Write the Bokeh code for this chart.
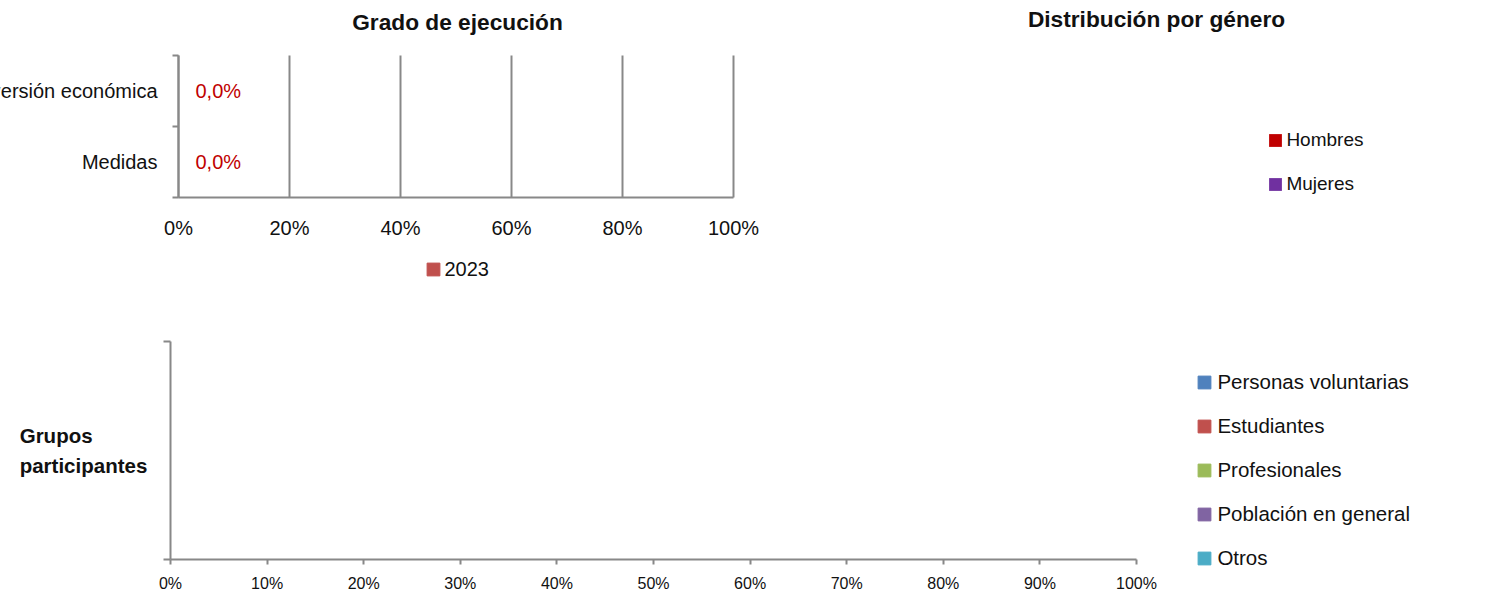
from bokeh.plotting import figure
from bokeh.models import (ColumnDataSource, FixedTicker, LabelSet, Label, Legend, LegendItem,
                          Range1d, NumeralTickFormatter)
from bokeh.layouts import column, row
from bokeh.embed import file_html
from bokeh.resources import INLINE
from bokeh.core.properties import value
import numpy as np

FONT = "Liberation Sans"
GREY = "#888888"
TXT = "#111111"

# ---------------- data ----------------
# Chart 1: Grado de ejecución
exec_title = "Grado de ejecución"
exec_categories = ["Medidas", "Inversión económica"]
exec_values_2023 = [0.0, 0.0]          # fraction executed
exec_series = "2023"
exec_color = "#C0504D"
exec_label_color = "#C00000"
exec_ticks = [0, 0.2, 0.4, 0.6, 0.8, 1.0]

# Chart 2: Distribución por género
gender_title = "Distribución por género"
gender_labels = ["Hombres", "Mujeres"]
gender_values = [0, 0]
gender_colors = ["#C00000", "#7030A0"]

# Chart 3: Grupos participantes
group_category = ["Grupos\nparticipantes"]
group_series = ["Personas voluntarias", "Estudiantes", "Profesionales",
                "Población en general", "Otros"]
group_values = [0, 0, 0, 0, 0]
group_colors = ["#4F81BD", "#C0504D", "#9BBB59", "#8064A2", "#4BACC6"]
group_ticks = [0, 0.1, 0.2, 0.3, 0.4, 0.5, 0.6, 0.7, 0.8, 0.9, 1.0]

# ---------------- layout geometry (pixels) ----------------
W1, W2, H_TOP = 798, 687, 298
W3, H3 = 1485, 298
P1_X0, P1_X1, P1_TOP, P1_BOT = 178, 733, 55, 197       # chart 1 plot area
P3_X0, P3_X1, P3_TOP, P3_BOT = 170, 1136, 43, 261      # chart 3 plot area (own coords)


def base_style(p):
    p.outline_line_color = None
    p.background_fill_color = "white"
    p.border_fill_color = "white"


def lin(px, p0, p1, v0, v1):
    return v0 + (px - p0) * (v1 - v0) / (p1 - p0)


def title_label(p, text, x, y):
    p.add_layout(Label(x=x, y=y, text=text, text_align="center", text_baseline="middle",
                       text_font=FONT, text_font_size="22.7px",
                       text_font_style="bold", text_color=TXT))


# ---------------- chart 1 ----------------
n1 = len(exec_categories)
x1r = Range1d(lin(0, P1_X0, P1_X1, 0, 1), lin(W1, P1_X0, P1_X1, 0, 1))
y1r = Range1d(lin(H_TOP, P1_BOT, P1_TOP, 0, n1), lin(0, P1_BOT, P1_TOP, 0, n1))
p1 = figure(width=W1, height=H_TOP, output_backend="svg", toolbar_location=None,
            x_range=x1r, y_range=y1r, min_border=0)
base_style(p1)
title_label(p1, exec_title, lin(457, P1_X0, P1_X1, 0, 1), lin(21.5, P1_BOT, P1_TOP, 0, n1))

ypos1 = [0.5 + i for i in range(n1)]
src1 = ColumnDataSource(dict(
    y=ypos1, v=exec_values_2023, cat=exec_categories,
    lbl=[("%.1f%%" % (v * 100)).replace(".", ",") for v in exec_values_2023],
    zero=[0] * n1))
r1 = p1.hbar(y="y", right="v", left=0, height=0.6, color=exec_color, source=src1)

p1.xaxis.fixed_location = 0
p1.xaxis.bounds = (0, 1)
p1.xaxis.ticker = FixedTicker(ticks=exec_ticks)
p1.xaxis.formatter = NumeralTickFormatter(format="0%")
p1.xaxis.major_tick_out = 0
p1.xaxis.major_tick_in = 0
p1.xaxis.minor_tick_out = 0
p1.xaxis.minor_tick_in = 0
p1.xaxis.axis_line_color = GREY
p1.xaxis.axis_line_width = 2
p1.xaxis.major_label_standoff = 19
p1.xaxis.major_label_text_font = FONT
p1.xaxis.major_label_text_font_size = "20px"
p1.xaxis.major_label_text_color = TXT
p1.xgrid.grid_line_color = GREY
p1.xgrid.grid_line_width = 2
p1.xgrid.bounds = (x1r.start, x1r.end)
p1.xgrid.cross_bounds = (0, n1)
p1.ygrid.visible = False

p1.yaxis.fixed_location = 0
p1.yaxis.bounds = (0, n1)
p1.yaxis.ticker = FixedTicker(ticks=[], minor_ticks=list(range(n1 + 1)))
p1.yaxis.minor_tick_out = 6
p1.yaxis.minor_tick_in = 0
p1.yaxis.minor_tick_line_color = GREY
p1.yaxis.minor_tick_line_width = 2
p1.yaxis.axis_line_color = GREY
p1.yaxis.axis_line_width = 2

p1.add_layout(LabelSet(x="zero", y="y", text="cat", source=src1, x_offset=-21,
                       text_align="right", text_baseline="middle",
                       text_font=value(FONT), text_font_size="20px", text_color=TXT))
p1.add_layout(LabelSet(x="v", y="y", text="lbl", source=src1, x_offset=17,
                       text_align="left", text_baseline="middle",
                       text_font=value(FONT), text_font_size="20px",
                       text_color=exec_label_color))

leg1 = Legend(items=[LegendItem(label=exec_series, renderers=[r1])],
              location=(425.4, H_TOP - 281), margin=0, padding=0,
              border_line_color=None, background_fill_alpha=0,
              glyph_width=16, glyph_height=16, label_standoff=3, label_height=24,
              label_text_font=FONT, label_text_font_size="20px", label_text_color=TXT)
p1.add_layout(leg1)

# ---------------- chart 2 ----------------
x2r = Range1d(-1.6, 1.6)
y2r = Range1d(-1, 1)
p2 = figure(width=W2, height=H_TOP, output_backend="svg", toolbar_location=None,
            x_range=x2r, y_range=y2r, min_border=0)
base_style(p2)
p2.axis.visible = False
p2.grid.visible = False
title_label(p2, gender_title, lin(1156 - W1, 0, W2, x2r.start, x2r.end),
            lin(18.5, H_TOP, 0, y2r.start, y2r.end))

tot = float(sum(gender_values))
fr = [v / tot if tot > 0 else 0.0 for v in gender_values]
ends = np.pi / 2 - 2 * np.pi * np.cumsum(fr)
starts = np.concatenate([[np.pi / 2], ends[:-1]])
# a slice of 0 % is not drawn (radius 0); the legend still shows its colour
src2 = ColumnDataSource(dict(start=[float(a) for a in ends], end=[float(b) for b in starts],
                             r=[0.8 if f > 0 else 0.0 for f in fr],
                             color=gender_colors, label=gender_labels))
rw = p2.wedge(x=-0.3, y=0, radius="r", start_angle="start", end_angle="end",
              fill_color="color", line_color=None, source=src2)
w_items = [LegendItem(label=lab, renderers=[rw], index=i) for i, lab in enumerate(gender_labels)]
leg2 = Legend(items=w_items, location=(1267.4 - W1, H_TOP - 196), margin=0, padding=0,
              border_line_color=None, background_fill_alpha=0, spacing=20,
              glyph_width=16, glyph_height=16, label_standoff=3, label_height=24,
              label_text_font=FONT, label_text_font_size="19px", label_text_color=TXT)
p2.add_layout(leg2)

# ---------------- chart 3 ----------------
x3r = Range1d(lin(0, P3_X0, P3_X1, 0, 1), lin(W3, P3_X0, P3_X1, 0, 1))
y3r = Range1d(lin(H3, P3_BOT, P3_TOP, 0, 1), lin(0, P3_BOT, P3_TOP, 0, 1))
p3 = figure(width=W3, height=H3, output_backend="svg", toolbar_location=None,
            x_range=x3r, y_range=y3r, min_border=0)
base_style(p3)
data3 = {"y": [0.5], "cat": group_category, "zero": [0]}
for s, v in zip(group_series, group_values):
    data3[s] = [v]
src3 = ColumnDataSource(data3)
rs3 = p3.hbar_stack(group_series, y="y", height=0.6, color=group_colors, source=src3)

p3.xaxis.fixed_location = 0
p3.xaxis.bounds = (0, 1)
p3.xaxis.ticker = FixedTicker(ticks=group_ticks)
p3.xaxis.formatter = NumeralTickFormatter(format="0%")
p3.xaxis.major_tick_out = 5
p3.xaxis.major_tick_in = 0
p3.xaxis.major_tick_line_color = GREY
p3.xaxis.major_tick_line_width = 2
p3.xaxis.axis_line_color = GREY
p3.xaxis.axis_line_width = 2
p3.xaxis.major_label_standoff = 10
p3.xaxis.major_label_text_font = FONT
p3.xaxis.major_label_text_font_size = "16px"
p3.xaxis.major_label_text_color = TXT
p3.grid.visible = False

p3.yaxis.fixed_location = 0
p3.yaxis.bounds = (0, 1)
p3.yaxis.ticker = FixedTicker(ticks=[], minor_ticks=[0, 1])
p3.yaxis.minor_tick_out = 7
p3.yaxis.minor_tick_in = 0
p3.yaxis.minor_tick_line_color = GREY
p3.yaxis.minor_tick_line_width = 2
p3.yaxis.axis_line_color = GREY
p3.yaxis.axis_line_width = 2

p3.add_layout(LabelSet(x="zero", y="y", text="cat", source=src3, x_offset=-87,
                       text_align="center", text_baseline="middle", text_line_height=1.28,
                       text_font=value(FONT), text_font_size="20.5px",
                       text_font_style="bold", text_color=TXT))

leg3 = Legend(items=[LegendItem(label=s, renderers=[r]) for s, r in zip(group_series, rs3)],
              location=(1196.4, H3 - 272), margin=0, padding=0,
              border_line_color=None, background_fill_alpha=0, spacing=20,
              glyph_width=16, glyph_height=16, label_standoff=5, label_height=24,
              label_text_font=FONT, label_text_font_size="20.5px", label_text_color=TXT)
p3.add_layout(leg3)

layout = column(row(p1, p2), p3)
open("out.html", "w").write(file_html(layout, INLINE))
